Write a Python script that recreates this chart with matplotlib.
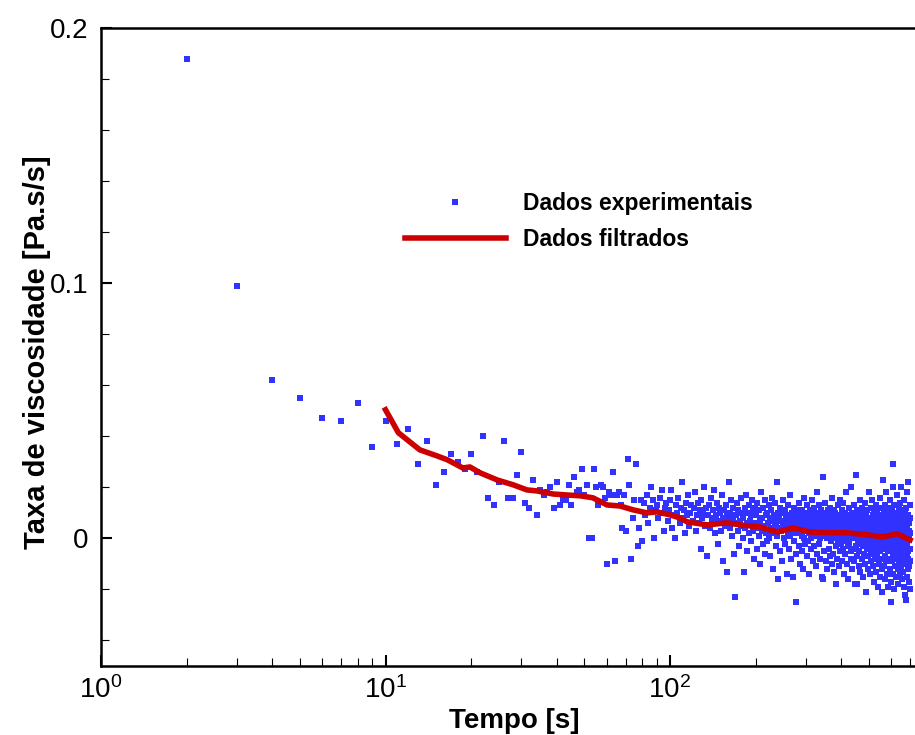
import matplotlib
matplotlib.use('Agg')
import matplotlib.pyplot as plt
import matplotlib.ticker as ticker
import numpy as np

plt.rcParams['font.family'] = ['Liberation Sans', 'DejaVu Sans']
plt.rcParams['mathtext.fontset'] = 'custom'
plt.rcParams['mathtext.rm'] = 'Liberation Sans'
plt.rcParams['mathtext.default'] = 'regular'

# experimental data, time in s (1 s steps), rate in 1e-3 Pa.s/s
tempo_exp = np.arange(2, 701)
taxa_exp_inicio = [
    188, 99, 62, 55, 47, 46, 53, 36, 46, 37, 43, 29, 38, 21, 26, 33, 30, 27, 33,
    26, 40, 16, 13, 22, 38, 16, 16, 25, 34, 14, 12, 23, 9, 19, 17, 18, 20, 12, 22,
    13, 15, 15, 21, 13, 24, 18, 19, 27, 17, 21, 0, 0, 27, 20, 13, 21, 20, 16, -10,
    18, 17, 26, -9, 17, 18, 13, 4, 17, 3, 31, 21, -8, 8, 15, 29, -3, 4, 15, -1,
]
taxa_exp_fim = [
    14, 9, 17, 6, 12, 20, 15, 0, 11, 13, 8, 16, 10, 19, 3, 12, 14, 7, 11, 15,
    19, 4, 9, 0, 13, 10, 16, 6, 12, 22, 8, 11, 2, 14, 9, 17, 5, 10, 13, 7,
    12, 18, 3, 9, 14, 6, 11, -4, 15, 8, 10, 20, 5, 12, -7, 9, 13, 4, 16, 8,
    6, 11, 19, 2, 9, 14, -2, 7, 12, 10, 3, 17, 8, -9, 11, 5, 13, 9, -13, 7,
    22, 4, 10, 15, 1, 8, 12, -6, -23, 9, 6, 14, 3, 11, -3, 7, 16, 5, 10, 0,
    8, -13, 12, 4, 17, 6, -5, 10, 2, 13, 7, -1, 9, 15, 3, 11, -8, 6, 12, 4,
    9, -4, 14, 6, 1, 11, -10, 7, 18, 3, 8, -2, 12, 5, 15, -6, 9, 2, 10, -1,
    6, 13, 0, 8, -7, 4, 11, 16, 2, 7, -12, 9, 5, 14, -3, 6, 22, 1, 10, -16,
    4, 8, -5, 12, 3, 7, -9, 10, 5, 15, 0, 6, -2, 11, 4, 9, -14, 7, 2, 13,
    5, -4, 8, 1, 17, 6, -8, 3, 10, -15, 4, 12, -1, 7, 2, 9, -6, -25, 5, 11,
    3, 8, -3, 14, 6, -10, 2, 9, 4, -5, 11, 1, 7, -12, 5, 16, 0, 8, -2, 6,
    10, -7, 3, 13, 5, -1, 8, -14, 2, 11, 6, -4, 9, 0, 15, 4, -9, 7, 1, 12,
    -3, 6, 10, 2, -11, 8, 4, 18, -6, 5, 1, 9, -2, 13, 3, -8, 7, 0, 11, 5,
    -15, 4, 9, 1, 24, -16, 6, 2, -5, 10, 3, 14, -9, 7, 0, 5, -12, 11, 2, 8,
    -4, 6, 1, 12, -7, 3, 9, -1, 5, 16, -10, 2, 8, 0, -6, 11, 4, -13, 7, 1,
    10, -3, 5, -18, 2, 8, -8, 4, 13, -1, 6, 0, -11, 9, 3, 15, -5, 1, 7, -2,
    4, 11, -9, 2, 6, -4, 14, 0, 8, -14, 3, 10, -6, 5, -1, 18, 2, -10, 7, 1,
    -3, 9, 4, -16, 6, 12, -2, 3, 0, 8, -8, 5, 20, -5, 2, 10, -12, 6, 1, -4,
    7, 3, -9, 13, 0, 5, -18, 2, 9, -3, 6, 25, -18, 4, -7, 11, 1, -2, 8, -11,
    3, 6, -5, 15, 0, 9, -13, 4, -1, 7, 2, -8, 12, 5, -3, 0, 10, -15, 6, 1,
    -6, 8, 3, -10, 14, 0, 5, -21, 2, 9, -4, 6, -1, 11, -12, 3, 7, -7, 1, 18,
    -3, 5, -14, 2, 8, 0, -6, 12, 3, -9, 6, -2, 15, 1, -11, 4, 9, -5, 0, 7,
    -17, 3, 10, -4, 1, 6, -8, 13, -1, 4, -13, 8, 2, -6, 11, 0, -19, 5, -2, 9,
    3, -10, 7, 0, 16, -5, 2, -15, 6, 1, -8, 12, -3, 4, -12, 9, 0, -21, 3, 23,
    -4, 7, 1, -11, 10, -2, 5, -16, 2, 13, -7, 0, 8, -3, 18, -9, 4, -1, 11, -14,
    2, 6, -5, 9, -19, 3, 0, 12, -8, 5, -2, 15, -12, 1, 7, -4, 10, -17, 3, -25,
    6, -3, 11, -9, 1, 20, -6, 29, -14, 4, -1, 8, -20, 2, 13, -7, 0, 5, -11, 9,
    -2, 3, -15, 10, 0, -8, 6, 17, -4, 1, -12, 8, -1, 4, -18, 12, -6, 2, 9, -10,
    0, 5, -14, 14, -3, 7, -8, 1, 20, -11, 4, -2, 10, -16, 3, -6, 8, 0, -13, 6,
    -4, 15, -9, 2, -19, 8, -1, 11, -7, 3, -22, 5, -24, 12, -3, 0, -10, 7, -15, 4,
    -6, 18, -2, 9, -12, 1, -5, 22, -8, 3, -17, 6, 0, -11, 13, -4, 2, -20, 8, -9,
]
taxa_exp = np.array(taxa_exp_inicio + taxa_exp_fim) / 1000.0

# filtered curve
tempo_filt = [10, 11.1, 13.2, 15.2, 16.5, 18.7, 19.8, 21.5, 24.7, 28.1, 31.4,
              34.1, 38.8, 43.5, 48.3, 53.6, 60.1, 66.7, 74.1, 83, 90, 100,
              108.5, 114.7, 135, 158.6, 176, 207, 238, 271, 310, 374, 419,
              492, 561, 628, 698]
taxa_filt = [50.4, 41.4, 34.7, 32.3, 30.8, 27.6, 28.0, 25.7, 22.9, 21.0, 19.0,
             18.6, 17.4, 17.0, 16.7, 15.9, 13.1, 12.7, 11.2, 10.0, 10.4, 9.2,
             8.0, 6.5, 5.3, 6.1, 5.3, 4.5, 2.5, 4.1, 2.5, 2.2, 2.2,
             1.4, 0.6, 1.8, -0.6]
taxa_filt = np.array(taxa_filt) / 1000.0

fig = plt.figure(figsize=(9.15, 7.35), dpi=100)
# right spine falls outside the picture, as in the cropped original
ax = fig.add_axes([101 / 915, 69 / 735, 853.5 / 915, 638 / 735])

ax.plot(tempo_exp, taxa_exp, linestyle='none', marker='s', markersize=4.2,
        color='#3232ff', markeredgewidth=0, label='Dados experimentais', zorder=2)
ax.plot(tempo_filt, taxa_filt, color='#cc0000', linewidth=4,
        label='Dados filtrados', zorder=3)

ax.set_xscale('log')
ax.set_xlim(1, 1000)
ax.set_ylim(-0.05, 0.2)


def rotulo_x(v, pos):
    if v >= 1000:
        return ''
    return r'$\mathdefault{10^{%d}}$' % round(np.log10(v))


ax.xaxis.set_major_locator(ticker.FixedLocator([1, 10, 100, 1000]))
ax.xaxis.set_major_formatter(ticker.FuncFormatter(rotulo_x))
ax.xaxis.set_minor_locator(ticker.LogLocator(base=10, subs=np.arange(2, 10)))
ax.xaxis.set_minor_formatter(ticker.NullFormatter())
ax.yaxis.set_major_locator(ticker.MultipleLocator(0.1))
ax.yaxis.set_minor_locator(ticker.MultipleLocator(0.02))
ax.yaxis.set_major_formatter(ticker.FormatStrFormatter('%g'))

ax.tick_params(which='both', direction='in', top=False, right=False, labelsize=20)
ax.tick_params(which='major', length=8, width=1.5)
ax.tick_params(which='minor', length=6, width=0.8)
ax.tick_params(axis='y', pad=9)
ax.tick_params(axis='x', pad=7)

for side in ['left', 'bottom', 'top']:
    ax.spines[side].set_linewidth(1.8)
ax.spines['right'].set_visible(False)

ax.set_xlabel('Tempo [s]', fontsize=20, fontweight='bold')
ax.set_ylabel('Taxa de viscosidade [Pa.s/s]', fontsize=21, fontweight='bold')
ax.xaxis.set_label_coords(0.484, -0.066)
ax.yaxis.set_label_coords(-0.058, 0.492)

ax.legend(loc='upper left', bbox_to_anchor=(405 / 915, 1 - 192 / 735),
          bbox_transform=fig.transFigure, frameon=False, borderpad=0,
          borderaxespad=0, handlelength=4.4, handletextpad=0.75,
          labelspacing=0.55, prop={'size': 16.5, 'weight': 'bold'})

fig.savefig('out.png', dpi=100)
